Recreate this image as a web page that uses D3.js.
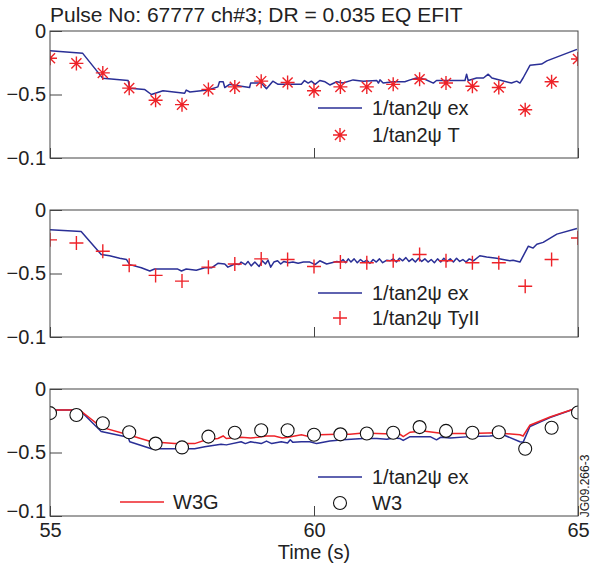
<!DOCTYPE html>
<html>
<head>
<meta charset="utf-8">
<script src="https://d3js.org/d3.v7.min.js"></script>
<style>
	body { margin: 0; background: #fff; }
	svg text { font-family: "Liberation Sans", Arial, sans-serif; fill: #222; }
	.frame { fill: none; stroke: #444; stroke-width: 1; }
	.axis path.domain { display: none; }
	.axis line { stroke: #444; }
</style>
</head>
<body>
<div id="chart"></div>
<script>

// ---- data ----
var markerTimes = [55, 55.5, 56, 56.5, 57, 57.5, 58, 58.5, 59, 59.5, 60, 60.5, 61, 61.5, 62, 62.5, 63, 63.5, 64, 64.5, 65];

var tanT = [-0.215, -0.255, -0.33, -0.45, -0.545, -0.58, -0.46, -0.44, -0.395, -0.405, -0.47,
	-0.44, -0.44, -0.42, -0.38, -0.41, -0.435, -0.445, -0.62, -0.40, -0.22];

var tanTyII = [-0.235, -0.26, -0.325, -0.435, -0.515, -0.56, -0.45, -0.425, -0.385, -0.39, -0.445,
	-0.41, -0.415, -0.40, -0.35, -0.40, -0.415, -0.415, -0.60, -0.39, -0.22];

var w3 = [-0.19, -0.205, -0.27, -0.34, -0.43, -0.46, -0.375, -0.345, -0.325, -0.325, -0.36,
	-0.357, -0.35, -0.345, -0.30, -0.33, -0.345, -0.34, -0.47, -0.305, -0.185];

// 1/tan2psi ex, as drawn in the top panel
var exTopTime = [55.0, 55.62, 56.0, 56.48, 56.51, 56.79, 56.92, 57.14, 57.55, 57.58, 57.65, 57.99, 58.18, 58.21,
	58.28, 58.31, 58.40, 58.53, 58.78, 58.80, 59.0, 59.1, 59.22, 59.32, 59.76, 59.82, 59.89, 59.95, 60.02,
	60.11, 60.21, 60.30, 60.43, 60.55, 60.74, 60.93, 61.19, 61.22, 61.25, 61.31, 61.50, 61.72, 61.82, 61.94,
	62.10, 62.26, 62.32, 62.70, 62.86, 62.89, 62.92, 63.08, 63.21, 63.30, 63.37, 63.55, 63.74, 63.84, 63.90,
	63.96, 64.09, 64.31, 64.41, 64.98];
var exTop = [-0.155, -0.176, -0.373, -0.39, -0.45, -0.46, -0.50, -0.47, -0.49, -0.465, -0.48, -0.465, -0.44, -0.40,
	-0.40, -0.445, -0.42, -0.43, -0.445, -0.41, -0.41, -0.455, -0.395, -0.42, -0.42, -0.39, -0.41, -0.395, -0.42,
	-0.39, -0.40, -0.425, -0.40, -0.41, -0.385, -0.395, -0.39, -0.41, -0.385, -0.41, -0.40, -0.40, -0.385, -0.37,
	-0.38, -0.41, -0.39, -0.39, -0.39, -0.34, -0.39, -0.37, -0.37, -0.34, -0.37, -0.39, -0.41, -0.395, -0.41,
	-0.37, -0.27, -0.26, -0.235, -0.145];

// 1/tan2psi ex, as drawn in the middle panel (noisier trace)
var exMidTime = [55.0, 55.59, 55.97, 56.13, 56.32, 56.45, 56.51, 56.73, 56.89, 56.98, 57.42, 57.49, 57.58, 57.77,
	57.93, 58.06, 58.18, 58.31, 58.37, 58.50, 58.58, 58.62, 58.70, 58.75, 58.81, 58.88, 58.96, 59.02, 59.08,
	59.13, 59.18, 59.24, 59.31, 59.37, 59.43, 59.52, 59.60, 59.70, 59.80, 59.92, 60.02, 60.11, 60.24, 60.43,
	60.50, 60.55, 60.60, 60.65, 60.70, 60.76, 60.82, 60.88, 60.94, 61.00, 61.06, 61.12, 61.18, 61.24, 61.30,
	61.38, 61.44, 61.50, 61.56, 61.62, 61.68, 61.74, 61.80, 61.86, 61.92, 61.98, 62.04, 62.10, 62.16, 62.22,
	62.28, 62.34, 62.40, 62.46, 62.52, 62.58, 62.64, 62.70, 62.76, 62.82, 62.88, 62.94, 63.02, 63.14, 63.27,
	63.46, 63.58, 63.71, 63.77, 63.90, 64.06, 64.15, 64.22, 64.34, 64.60, 64.98];
var exMid = [-0.155, -0.17, -0.35, -0.36, -0.38, -0.39, -0.43, -0.455, -0.48, -0.465, -0.465, -0.48, -0.465, -0.475,
	-0.455, -0.455, -0.42, -0.425, -0.45, -0.425, -0.43, -0.41, -0.43, -0.405, -0.44, -0.41, -0.445, -0.40, -0.425,
	-0.395, -0.45, -0.41, -0.40, -0.425, -0.405, -0.415, -0.41, -0.42, -0.41, -0.41, -0.43, -0.40, -0.425, -0.405,
	-0.41, -0.39, -0.415, -0.385, -0.41, -0.385, -0.415, -0.39, -0.41, -0.395, -0.42, -0.39, -0.41, -0.385, -0.415,
	-0.395, -0.40, -0.385, -0.41, -0.38, -0.40, -0.375, -0.405, -0.385, -0.41, -0.38, -0.405, -0.385, -0.41, -0.39,
	-0.415, -0.385, -0.41, -0.38, -0.405, -0.385, -0.41, -0.38, -0.405, -0.39, -0.41, -0.385, -0.40, -0.36, -0.37,
	-0.38, -0.39, -0.40, -0.395, -0.41, -0.285, -0.30, -0.27, -0.255, -0.19, -0.145];

// 1/tan2psi ex, as drawn in the bottom panel
var exBotTime = [55.0, 55.56, 55.97, 56.48, 56.51, 56.92, 57.74, 57.93, 58.24, 58.34, 58.62, 58.70, 58.80, 59.0,
	59.10, 59.20, 59.38, 59.50, 59.55, 59.60, 59.76, 59.92, 60.05, 60.30, 60.55, 60.93, 61.19, 61.38, 61.50,
	61.63, 61.69, 61.82, 62.20, 62.32, 62.40, 62.58, 62.95, 63.33, 63.58, 63.90, 63.96, 64.09, 64.47, 64.98];
var exBot = [-0.165, -0.165, -0.335, -0.38, -0.415, -0.47, -0.47, -0.455, -0.435, -0.44, -0.415, -0.43, -0.415, -0.43,
	-0.41, -0.43, -0.415, -0.425, -0.40, -0.42, -0.415, -0.415, -0.43, -0.41, -0.40, -0.39, -0.39, -0.395, -0.385,
	-0.39, -0.405, -0.375, -0.375, -0.40, -0.38, -0.385, -0.375, -0.37, -0.36, -0.415, -0.42, -0.295, -0.225, -0.15];

var w3gTime = [55.0, 55.56, 55.97, 56.48, 56.92, 57.36, 57.74, 57.96, 58.18, 58.28, 58.34, 58.62, 58.80, 58.94,
	59.10, 59.25, 59.40, 59.51, 59.76, 59.92, 60.11, 60.43, 60.68, 60.93, 61.19, 61.63, 61.69, 61.82, 62.07,
	62.44, 62.95, 63.46, 63.90, 63.96, 64.09, 64.47, 64.98];
var w3g = [-0.165, -0.165, -0.30, -0.36, -0.415, -0.43, -0.43, -0.40, -0.39, -0.37, -0.39, -0.38, -0.385, -0.38,
	-0.37, -0.37, -0.385, -0.38, -0.36, -0.375, -0.36, -0.357, -0.357, -0.347, -0.35, -0.357, -0.375, -0.34, -0.33,
	-0.35, -0.35, -0.345, -0.36, -0.37, -0.285, -0.22, -0.15];

var yTicks = [0, -0.5, -1];
var yTickLabels = ["0", "\u22120.5", "\u22120.1"];
var xTicks = [55, 60, 65];

var titleText = "Pulse No: 67777 ch#3; DR = 0.035 EQ EFIT";
var sideText = "JG09.266-3";

var BLUE = "#2a2f96", RED = "#ee2228";

function zip(ts, vs) { return ts.map(function(t, i){ return {t: t, v: vs[i]}; }); }

// ---- layout ----
var W = 592, H = 571;
var left = 50, plotW = 528, plotH = 127;
var FS = 20;

var svg = d3.select("#chart").append("svg")
	.attr("width", W)
	.attr("height", H);

var x = d3.scaleLinear().domain([55, 65]).range([left, left + plotW]);

// marker shapes (MATLAB style)
function starPath(r) {
	var d = r * 0.72;
	return "M" + (-r) + ",0L" + r + ",0M0," + (-r) + "L0," + r +
		"M" + (-d) + "," + (-d) + "L" + d + "," + d + "M" + (-d) + "," + d + "L" + d + "," + (-d);
}
function plusPath(r) {
	return "M" + (-r) + ",0L" + r + ",0M0," + (-r) + "L0," + r;
}

function drawMarker(g, kind, cx, cy) {
	if (kind === "circle") {
		g.append("circle").attr("cx", cx).attr("cy", cy).attr("r", 6.5)
			.attr("fill", "#fff").attr("stroke", "#111").attr("stroke-width", 1.1);
	} else {
		g.append("path").attr("transform", "translate(" + cx + "," + cy + ")")
			.attr("d", kind === "star" ? starPath(7) : plusPath(7))
			.attr("fill", "none").attr("stroke", RED).attr("stroke-width", 1.4);
	}
}

var panels = [
	{ top: 31, ex: zip(exTopTime, exTop), red: null, marker: "star", pts: tanT,
	  legend: [ {type: "line", color: BLUE, x: 318, y: 108, tx: 372, label: "1/tan2\u03c8 ex"},
	            {type: "star", x: 340, y: 135, tx: 372, label: "1/tan2\u03c8 T"} ] },
	{ top: 210, ex: zip(exMidTime, exMid), red: null, marker: "plus", pts: tanTyII,
	  legend: [ {type: "line", color: BLUE, x: 318, y: 293, tx: 372, label: "1/tan2\u03c8 ex"},
	            {type: "plus", x: 340, y: 318, tx: 372, label: "1/tan2\u03c8 TyII"} ] },
	{ top: 389, ex: zip(exBotTime, exBot), red: zip(w3gTime, w3g), marker: "circle", pts: w3,
	  legend: [ {type: "line", color: BLUE, x: 318, y: 477, tx: 372, label: "1/tan2\u03c8 ex"},
	            {type: "circle", x: 340, y: 503, tx: 372, label: "W3"},
	            {type: "line", color: RED, x: 120, y: 502, tx: 173, label: "W3G"} ] }
];

panels.forEach(function(p, i) {
	var y = d3.scaleLinear().domain([-1, 0]).range([p.top + plotH, p.top]);

	var clipId = "clip" + i;
	svg.append("clipPath").attr("id", clipId)
		.append("rect").attr("x", left).attr("y", p.top).attr("width", plotW).attr("height", plotH);

	var line = d3.line()
		.x(function(d) { return x(d.t); })
		.y(function(d) { return y(d.v); });

	var plot = svg.append("g").attr("clip-path", "url(#" + clipId + ")");

	plot.append("path")
		.datum(p.ex)
		.attr("fill", "none")
		.attr("stroke", BLUE)
		.attr("stroke-width", 1.5)
		.attr("stroke-linejoin", "round")
		.attr("d", line);

	if (p.red) {
		plot.append("path")
			.datum(p.red)
			.attr("fill", "none")
			.attr("stroke", RED)
			.attr("stroke-width", 1.5)
			.attr("d", line);
	}

	markerTimes.forEach(function(t, j) {
		drawMarker(plot, p.marker, x(t), y(p.pts[j]));
	});

	// axes (inward ticks)
	var yAxis = d3.axisLeft(y)
		.tickValues(yTicks)
		.tickFormat(function(d, k) { return yTickLabels[k]; })
		.tickSize(-12)
		.tickPadding(4);
	var gy = svg.append("g").attr("class", "axis")
		.attr("transform", "translate(" + left + ",0)")
		.call(yAxis);
	gy.selectAll("text").attr("font-size", FS).style("font-family", "Liberation Sans, Arial, sans-serif");
	// bottom label of the last panel is nudged up, clear of the "55" below it
	if (i === 2) {
		gy.selectAll("text").filter(function(d) { return d === -1; }).attr("y", -5);
	}

	var xAxis = d3.axisBottom(x)
		.tickValues(xTicks)
		.tickSize(-10)
		.tickPadding(7)
		.tickFormat(i === 2 ? d3.format("d") : "");
	var gx = svg.append("g").attr("class", "axis")
		.attr("transform", "translate(0," + (p.top + plotH) + ")")
		.call(xAxis);
	gx.selectAll("text").attr("font-size", FS).style("font-family", "Liberation Sans, Arial, sans-serif");

	svg.append("rect").attr("class", "frame")
		.attr("x", left).attr("y", p.top).attr("width", plotW).attr("height", plotH);

	// legend
	p.legend.forEach(function(L) {
		if (L.type === "line") {
			svg.append("line").attr("x1", L.x).attr("x2", L.x + 44).attr("y1", L.y).attr("y2", L.y)
				.attr("stroke", L.color).attr("stroke-width", 1.5);
		} else {
			drawMarker(svg, L.type, L.x, L.y);
		}
		svg.append("text")
			.attr("x", L.tx)
			.attr("y", L.y + 7)
			.attr("font-size", FS)
			.text(L.label);
	});
});

// title
svg.append("text")
	.attr("x", 50)
	.attr("y", 22)
	.attr("font-size", 21)
	.text(titleText);

// x axis title
svg.append("text")
	.attr("x", left + plotW / 2)
	.attr("y", 559)
	.attr("text-anchor", "middle")
	.attr("font-size", FS)
	.text("Time (s)");

// figure reference id on the side
svg.append("text")
	.attr("transform", "translate(589,486) rotate(-90)")
	.attr("text-anchor", "middle")
	.attr("font-size", 12)
	.text(sideText);

</script>
</body>
</html>
